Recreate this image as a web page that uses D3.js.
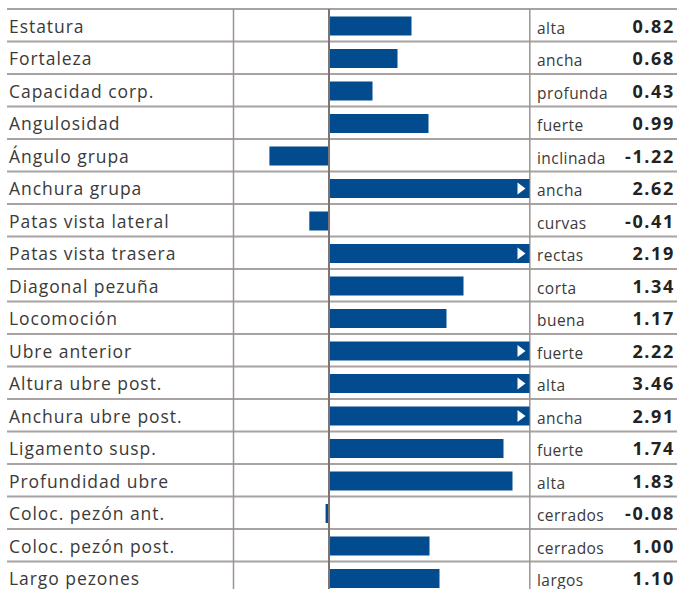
<!DOCTYPE html>
<html>
<head>
<meta charset="utf-8">
<script src="https://cdn.jsdelivr.net/npm/d3@7"></script>
<style>
html,body{margin:0;padding:0;background:#fff;}
svg{display:block;}
</style>
</head>
<body>
<svg id="chart" width="690" height="589"></svg>
<script>
const traits = ["Estatura","Fortaleza","Capacidad corp.","Angulosidad","Ángulo grupa","Anchura grupa","Patas vista lateral","Patas vista trasera","Diagonal pezuña","Locomoción","Ubre anterior","Altura ubre post.","Anchura ubre post.","Ligamento susp.","Profundidad ubre","Coloc. pezón ant.","Coloc. pezón post.","Largo pezones"];
const descriptors = ["alta","ancha","profunda","fuerte","inclinada","ancha","curvas","rectas","corta","buena","fuerte","alta","ancha","fuerte","alta","cerrados","cerrados","largos"];
const values = [0.82,0.68,0.43,0.99,-1.22,2.62,-0.41,2.19,1.34,1.17,2.22,3.46,2.91,1.74,1.83,-0.08,1.00,1.10];
const valueLabels = ["0.82","0.68","0.43","0.99","-1.22","2.62","-0.41","2.19","1.34","1.17","2.22","3.46","2.91","1.74","1.83","-0.08","1.00","1.10"];
const limits = [-2, 0, 2];

const data = traits.map((t,i)=>({trait:t, desc:descriptors[i], value:values[i], label:valueLabels[i]}));

const svg = d3.select("#chart");
const rowH = 32.5, topY = 9;
const y = d3.scaleBand().domain(traits).range([topY, topY + rowH*traits.length]).padding(0);
const x = d3.scaleLinear().domain(limits).range([231, 329.5, 529.5]).clamp(true);

const gridColor = "#a8a2a2";
const textColor = "#3a3a3a";
const barColor = "#024b8e";
const font = "'Open Sans', 'Noto Sans', sans-serif";

// horizontal row lines
const lineYs = d3.range(traits.length+1).map(i => topY + i*rowH);
svg.append("g").selectAll("line").data(lineYs).join("line")
  .attr("x1", 7).attr("x2", 677)
  .attr("y1", d=>d).attr("y2", d=>d)
  .attr("stroke", gridColor).attr("stroke-width", 1.8);

// vertical lines
svg.append("line").attr("x1",233.5).attr("x2",233.5).attr("y1",topY).attr("y2",589)
  .attr("stroke","#9a9494").attr("stroke-width",1.5);
svg.append("line").attr("x1",529.8).attr("x2",529.8).attr("y1",topY).attr("y2",589)
  .attr("stroke","#9a9494").attr("stroke-width",1.5);

// bars
const bars = svg.append("g");
bars.selectAll("rect").data(data).join("rect")
  .attr("x", d => Math.min(x(d.value), x(0)))
  .attr("width", d => Math.abs(x(d.value) - x(0)))
  .attr("y", d => y(d.trait) + 7.5)
  .attr("height", 19)
  .attr("fill", barColor);

// overflow arrows
bars.selectAll("path").data(data.filter(d => d.value > limits[2])).join("path")
  .attr("d", d => {
    const xr = x(limits[2]) - 4, yc = y(d.trait) + 7.5 + 9.5;
    return `M${xr},${yc} L${xr-8},${yc-6} L${xr-8},${yc+6} Z`;
  })
  .attr("fill", "#fff");

// zero line
svg.append("line").attr("x1",x(0)-0.5).attr("x2",x(0)-0.5).attr("y1",topY).attr("y2",589)
  .attr("stroke","#7d7575").attr("stroke-width",2);

// trait labels
svg.append("g").selectAll("text").data(data).join("text")
  .attr("x", 9).attr("y", d => y(d.trait) + 23.5)
  .attr("font-family", font)
  .attr("font-size", 17.5)
  .attr("letter-spacing", 0.95)
  .attr("fill", textColor)
  .text(d => d.trait);

// descriptors
svg.append("g").selectAll("text").data(data).join("text")
  .attr("x", 537).attr("y", d => y(d.trait) + 24.5)
  .attr("font-family", font)
  .attr("font-size", 15.5)
  .attr("letter-spacing", 0.45)
  .attr("fill", textColor)
  .text(d => d.desc);

// values
svg.append("g").selectAll("text").data(data).join("text")
  .attr("x", 674.8).attr("y", d => y(d.trait) + 23.5)
  .attr("text-anchor","end")
  .attr("font-family", font)
  .attr("font-weight", 700)
  .attr("font-size", 18)
  .attr("letter-spacing", 1.6)
  .attr("fill", "#222")
  .text(d => d.label);
</script>
</body>
</html>
